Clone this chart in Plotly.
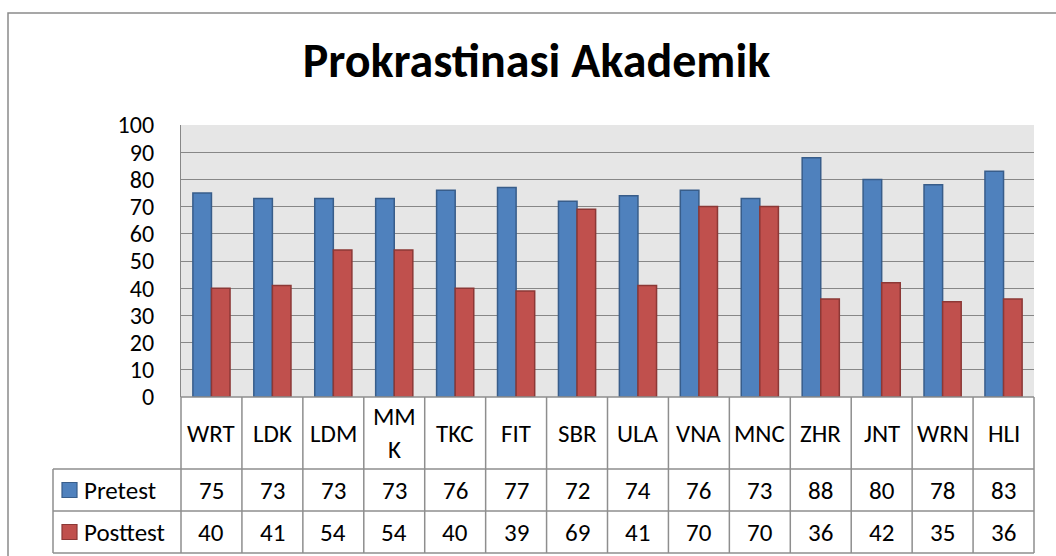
import plotly.graph_objects as go

categories = ["WRT", "LDK", "LDM", "MMK", "TKC", "FIT", "SBR", "ULA", "VNA", "MNC", "ZHR", "JNT", "WRN", "HLI"]
header_labels = ["WRT", "LDK", "LDM", "MM<br>K", "TKC", "FIT", "SBR", "ULA", "VNA", "MNC", "ZHR", "JNT", "WRN", "HLI"]
pretest = [75, 73, 73, 73, 76, 77, 72, 74, 76, 73, 88, 80, 78, 83]
posttest = [40, 41, 54, 54, 40, 39, 69, 41, 70, 70, 36, 42, 35, 36]
series_names = ["Pretest", "Posttest"]
y_ticks = [0, 10, 20, 30, 40, 50, 60, 70, 80, 90, 100]
title_text = "Prokrastinasi Akademik"

W, H = 1056, 556
L, R, T, B = 181, 22, 125, 159
PW = W - L - R
PH = H - T - B
FONT = "Carlito, Lato, sans-serif"
FS = 25
BLUE, BLUE_EDGE = "#4F81BD", "#385D8A"
RED, RED_EDGE = "#C0504D", "#8C3836"
GRID = "#878787"
TBL = "#8E8E8E"


def px_x(px):
    return (px - L) / PW


def px_y(py):
    return (H - B - py) / PH


fig = go.Figure()
fig.add_trace(go.Bar(x=categories, y=pretest, name=series_names[0],
                     marker=dict(color=BLUE, line=dict(color=BLUE_EDGE, width=1.5))))
fig.add_trace(go.Bar(x=categories, y=posttest, name=series_names[1],
                     marker=dict(color=RED, line=dict(color=RED_EDGE, width=1.5))))

shapes = []
annotations = []
n = len(categories)
header_top, row1_top, row2_top, row3_bot = 397, 469, 511, 553
legend_left = 53

for k in range(n + 1):
    shapes.append(dict(type="line", xref="paper", yref="paper",
                       x0=k / n, x1=k / n, y0=px_y(header_top), y1=px_y(row3_bot),
                       line=dict(color=TBL, width=1.5)))
shapes.append(dict(type="line", xref="paper", yref="paper",
                   x0=px_x(legend_left), x1=px_x(legend_left), y0=px_y(row1_top), y1=px_y(row3_bot),
                   line=dict(color=TBL, width=1.5)))
shapes.append(dict(type="line", xref="paper", yref="paper", x0=0, x1=1,
                   y0=px_y(header_top), y1=px_y(header_top), line=dict(color=TBL, width=1.5)))
for yy in (row1_top, row2_top, row3_bot):
    shapes.append(dict(type="line", xref="paper", yref="paper", x0=px_x(legend_left), x1=1,
                       y0=px_y(yy), y1=px_y(yy), line=dict(color=TBL, width=1.5)))
shapes.append(dict(type="rect", xref="paper", yref="paper",
                   x0=px_x(8), x1=px_x(1070), y0=px_y(13), y1=px_y(570),
                   line=dict(color="#8A8A8A", width=1.5), fillcolor="rgba(0,0,0,0)", layer="below"))

row_centers = [(row1_top + row2_top) / 2, (row2_top + row3_bot) / 2]
for name, fill, edge, cy in [(series_names[0], BLUE, BLUE_EDGE, row_centers[0]),
                             (series_names[1], RED, RED_EDGE, row_centers[1])]:
    shapes.append(dict(type="rect", xref="paper", yref="paper",
                       x0=px_x(62), x1=px_x(77), y0=px_y(cy - 7.5), y1=px_y(cy + 7.5),
                       fillcolor=fill, line=dict(color=edge, width=1.2)))
    annotations.append(dict(text=name, xref="paper", yref="paper", x=px_x(82), y=px_y(cy),
                            xanchor="left", yanchor="middle", showarrow=False,
                            font=dict(family=FONT, size=FS, color="black")))

for cat, lab, v1, v2 in zip(categories, header_labels, pretest, posttest):
    annotations.append(dict(text=lab, xref="x", yref="paper", x=cat,
                            y=px_y((header_top + row1_top) / 2), xanchor="center", yanchor="middle",
                            showarrow=False, font=dict(family=FONT, size=FS, color="black")))
    annotations.append(dict(text=str(v1), xref="x", yref="paper", x=cat, y=px_y(row_centers[0]),
                            xanchor="center", yanchor="middle", showarrow=False,
                            font=dict(family=FONT, size=FS, color="black")))
    annotations.append(dict(text=str(v2), xref="x", yref="paper", x=cat, y=px_y(row_centers[1]),
                            xanchor="center", yanchor="middle", showarrow=False,
                            font=dict(family=FONT, size=FS, color="black")))

fig.update_layout(
    width=W, height=H,
    margin=dict(l=L, r=R, t=T, b=B, pad=0),
    paper_bgcolor="white", plot_bgcolor="#E6E6E6",
    barmode="group", bargap=0.39, bargroupgap=0.0,
    showlegend=False,
    title=dict(text="<b>" + title_text + "</b>", xref="container", yref="container",
               x=0.508, y=1 - 60 / H, xanchor="center", yanchor="middle",
               font=dict(family=FONT, size=48, color="black")),
    font=dict(family=FONT, size=FS, color="black"),
    xaxis=dict(showticklabels=False, showgrid=False, zeroline=False, showline=False,
               range=[-0.5, n - 0.5], ticks=""),
    yaxis=dict(range=[0, 100], tickvals=y_ticks, showgrid=True, gridcolor=GRID, gridwidth=1.3,
               zeroline=False, showline=True, linecolor=GRID, linewidth=1.3,
               ticks="", ticklabelstandoff=21, tickfont=dict(family=FONT, size=FS - 1, color="black")),
    shapes=shapes, annotations=annotations,
)

fig.write_html("out.html", config={"displayModeBar": False},
               post_script="document.body.style.margin='0';")
